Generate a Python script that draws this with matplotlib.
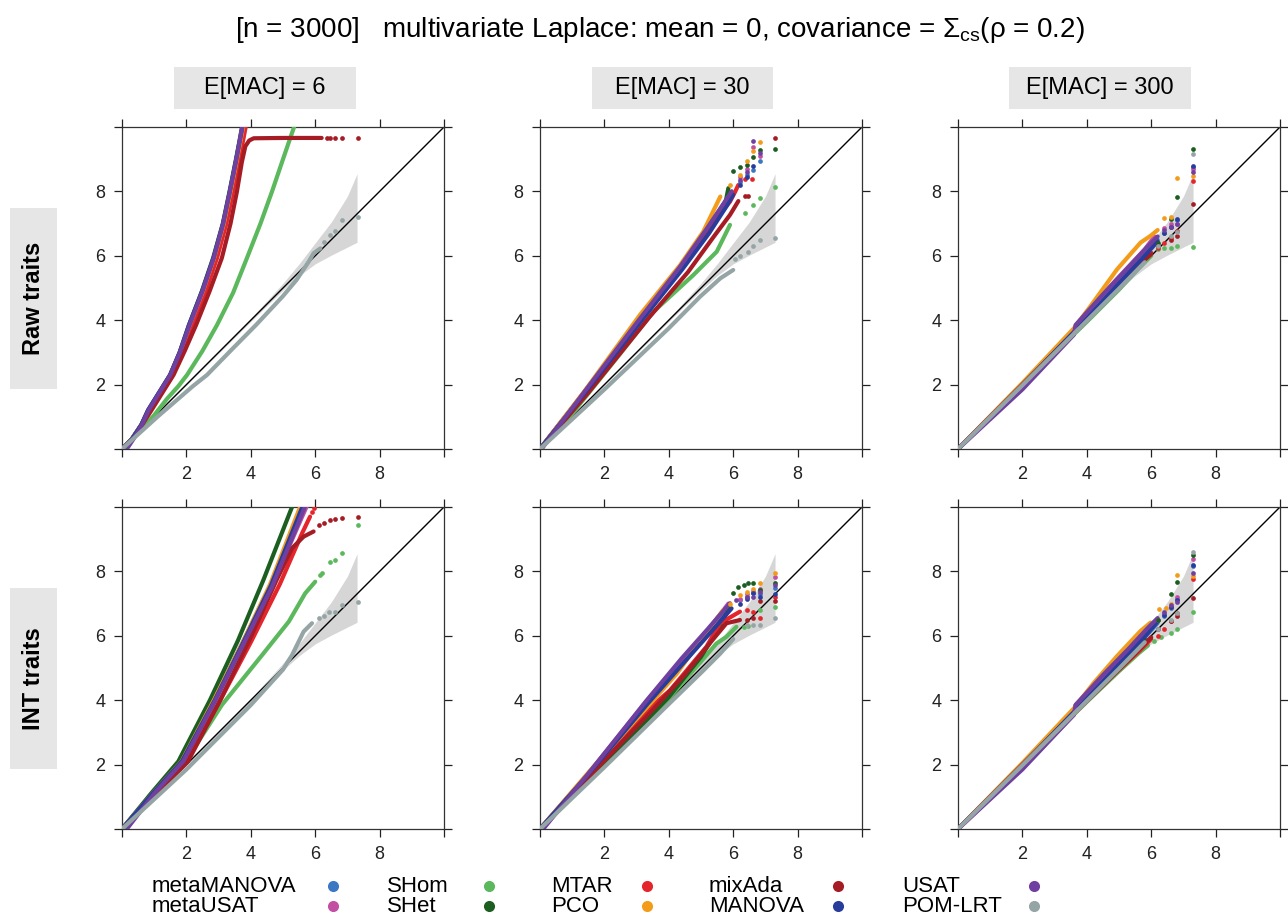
import matplotlib
matplotlib.use("Agg")
import matplotlib.pyplot as plt
from matplotlib.patches import Rectangle
from matplotlib.lines import Line2D

plt.rcParams['font.family'] = ['Liberation Sans', 'DejaVu Sans']
plt.rcParams['mathtext.fontset'] = 'custom'
plt.rcParams['mathtext.rm'] = 'Liberation Sans'
plt.rcParams['mathtext.it'] = 'Liberation Sans:italic'

methods = ['metaMANOVA', 'metaUSAT', 'SHom', 'SHet', 'MTAR',
           'PCO', 'mixAda', 'MANOVA', 'USAT', 'POM-LRT']
colors = ['#3a78c4', '#c34fa3', '#5cb85c', '#1b5e20', '#e4252c',
          '#f39c1a', '#a51c24', '#283c9c', '#7040a0', '#95a5a6']

col_titles = ['E[MAC] = 6', 'E[MAC] = 30', 'E[MAC] = 300']
row_titles = ['Raw traits', 'INT traits']

# 95% band around the null line (expected -log10 p)
band_x = [0, 1, 2, 3, 4, 4.5, 5.0, 5.5, 6.0, 6.5, 7.0, 7.3]
band_lo = [0, 0.99, 1.98, 2.97, 3.96, 4.45, 4.93, 5.38, 5.75, 6.02, 6.27, 6.42]
band_hi = [0, 1.01, 2.02, 3.04, 4.06, 4.6, 5.15, 5.75, 6.4, 7.05, 7.85, 8.55]

# dense part of each QQ curve: method -> (expected, observed)
raw6_line = {
    'metaMANOVA': ([0, 0.3, 0.6, 0.82, 1.5, 1.8, 2.1, 2.5, 2.85, 3.15, 3.36, 3.56, 3.76], [0, 0.3, 0.75, 1.21, 2.3, 3.0, 3.85, 4.9, 5.93, 7.0, 8.0, 9.0, 10.05]),
    'metaUSAT': ([0, 0.3, 0.61, 0.83, 1.52, 1.82, 2.12, 2.52, 2.87, 3.17, 3.38, 3.58, 3.78], [0, 0.3, 0.75, 1.21, 2.3, 3.0, 3.85, 4.9, 5.93, 7.0, 8.0, 9.0, 10.05]),
    'SHom': ([0, 0.6, 1.0, 1.39, 1.75, 2.02, 2.5, 2.95, 3.45, 3.88, 4.3, 4.66, 5.0, 5.36], [0, 0.6, 1.05, 1.55, 1.95, 2.3, 3.05, 3.85, 4.85, 5.93, 7.0, 8.0, 9.0, 10.05]),
    'SHet': ([0, 0.3, 0.6, 0.82, 1.5, 1.79, 2.08, 2.48, 2.83, 3.13, 3.34, 3.54, 3.74], [0, 0.3, 0.75, 1.21, 2.3, 3.0, 3.85, 4.9, 5.93, 7.0, 8.0, 9.0, 10.05]),
    'MTAR': ([0, 0.32, 0.63, 0.85, 1.55, 1.87, 2.18, 2.6, 2.95, 3.24, 3.45, 3.65, 3.85], [0, 0.3, 0.75, 1.21, 2.3, 3.0, 3.85, 4.9, 5.93, 7.0, 8.0, 9.0, 10.05]),
    'PCO': ([0, 0.3, 0.6, 0.82, 1.5, 1.8, 2.1, 2.51, 2.86, 3.16, 3.37, 3.57, 3.77], [0, 0.3, 0.75, 1.21, 2.3, 3.0, 3.85, 4.9, 5.93, 7.0, 8.0, 9.0, 10.05]),
    'mixAda': ([0, 0.35, 0.9, 1.6, 1.95, 2.3, 2.72, 3.1, 3.37, 3.57, 3.72, 3.83, 3.95, 4.09, 5.0, 6.2], [0, 0.33, 1.18, 2.3, 3.05, 3.85, 4.9, 5.93, 7.0, 8.0, 8.9, 9.4, 9.58, 9.65, 9.66, 9.66]),
    'MANOVA': ([0, 0.3, 0.6, 0.81, 1.49, 1.79, 2.08, 2.49, 2.84, 3.14, 3.35, 3.55, 3.75], [0, 0.3, 0.75, 1.21, 2.3, 3.0, 3.85, 4.9, 5.93, 7.0, 8.0, 9.0, 10.05]),
    'USAT': ([0.15, 0.35, 0.62, 0.83, 1.5, 1.8, 2.1, 2.5, 2.85, 3.14, 3.35, 3.55, 3.74], [0, 0.3, 0.75, 1.21, 2.3, 3.0, 3.85, 4.9, 5.93, 7.0, 8.0, 9.0, 10.05]),
    'POM-LRT': ([0, 1.1, 2.2, 2.64, 3.4, 4.16, 5.0, 5.42, 5.8, 5.95, 6.16], [0, 1.0, 1.95, 2.3, 3.08, 3.85, 4.75, 5.25, 5.82, 6.08, 6.23]),
}
# sparse tail points of each QQ curve
raw6_tail = {
    'mixAda': ([6.37, 6.47, 6.63, 6.83, 7.33], [9.66, 9.66, 9.66, 9.66, 9.66]),
    'POM-LRT': ([6.26, 6.47, 6.63, 6.83, 7.33], [6.42, 6.66, 6.77, 7.11, 7.22]),
}

raw30_line = {
    'metaMANOVA': ([0, 1.45, 3.1, 4.4, 5.2, 5.75, 6.0], [0, 1.83, 3.95, 5.6, 6.7, 7.5, 7.9]),
    'metaUSAT': ([0, 1.42, 3.07, 4.37, 5.12, 5.7, 5.95], [0, 1.83, 3.98, 5.65, 6.75, 7.6, 8.0]),
    'SHom': ([0, 1.0, 2.5, 3.52, 4.76, 5.49, 5.9], [0, 1.1, 2.97, 4.26, 5.4, 6.13, 6.96]),
    'SHet': ([0, 1.45, 3.1, 4.4, 5.2, 5.75, 5.85], [0, 1.85, 3.98, 5.62, 6.75, 7.6, 8.1]),
    'MTAR': ([0, 1.45, 3.31, 4.55, 5.38, 5.9, 6.06, 6.16], [0, 1.78, 4.26, 5.92, 7.06, 7.68, 7.99, 8.2]),
    'PCO': ([0, 1.4, 3.1, 4.35, 5.07, 5.6], [0, 1.82, 4.16, 5.71, 6.75, 7.84]),
    'mixAda': ([0, 1.5, 3.4, 4.6, 5.4, 5.9, 6.16], [0, 1.75, 4.1, 5.5, 6.6, 7.27, 7.7]),
    'MANOVA': ([0, 1.45, 3.12, 4.42, 5.25, 5.8, 6.0], [0, 1.82, 3.95, 5.58, 6.7, 7.55, 7.9]),
    'USAT': ([0.05, 1.42, 3.05, 4.35, 5.15, 5.7, 5.95], [0, 1.83, 3.98, 5.66, 6.8, 7.62, 8.0]),
    'POM-LRT': ([0, 2, 4, 4.97, 5.6, 6.0], [0, 1.85, 3.75, 4.73, 5.3, 5.56]),
}
raw30_tail = {
    'metaMANOVA': ([6.21, 6.42, 6.63, 6.83], [8.3, 8.5, 8.66, 8.94]),
    'metaUSAT': ([6.21, 6.42, 6.63, 6.83], [8.45, 8.7, 9.39, 9.1]),
    'SHom': ([6.37, 6.63, 6.83, 7.3], [7.32, 7.58, 7.78, 8.13]),
    'SHet': ([6.0, 6.21, 6.42, 6.63, 6.83, 7.3], [8.63, 8.77, 8.82, 9.08, 9.29, 9.32]),
    'MTAR': ([6.37, 6.57], [8.4, 8.4]),
    'PCO': ([5.9, 6.21, 6.42, 6.63, 6.83], [8.2, 8.5, 8.95, 9.25, 9.54]),
    'mixAda': ([6.37, 6.47, 7.3], [7.86, 7.86, 9.67]),
    'MANOVA': ([6.21, 6.42, 6.63], [8.2, 8.45, 8.8]),
    'USAT': ([6.21, 6.42, 6.63, 6.83], [8.35, 8.6, 9.56, 9.2]),
    'POM-LRT': ([6.06, 6.2, 6.47, 6.63, 6.83, 7.3], [5.9, 6.0, 6.13, 6.3, 6.49, 6.54]),
}

raw300_line = {
    'metaMANOVA': ([0, 2, 4, 5, 5.8, 6.2], [0, 2.0, 4.1, 5.2, 6.1, 6.5]),
    'metaUSAT': ([0, 2, 3.7, 4, 5, 5.8, 6.1], [0, 1.95, 3.8, 4.25, 5.35, 6.2, 6.6]),
    'SHom': ([0, 2, 4, 5, 5.6, 6.0], [0, 2, 3.95, 4.95, 5.6, 6.0]),
    'SHet': ([0, 2, 4, 5, 5.8], [0, 2, 4.0, 5.05, 5.9]),
    'MTAR': ([0, 2, 4, 5, 5.6, 6.0], [0, 2.0, 4.05, 5.05, 5.7, 6.1]),
    'PCO': ([0, 2, 3.6, 4.11, 4.94, 5.67, 5.98, 6.2], [0, 2.05, 3.75, 4.43, 5.58, 6.41, 6.62, 6.8]),
    'mixAda': ([0, 2, 4, 5, 5.7, 6.0], [0, 2, 4.0, 5.0, 5.8, 6.05]),
    'MANOVA': ([0, 2, 4, 5, 5.8, 6.2], [0, 1.98, 4.05, 5.15, 6.0, 6.45]),
    'USAT': ([0, 2, 3.6, 3.65, 4.5, 5.3, 5.9, 6.2], [0, 1.85, 3.55, 3.85, 4.8, 5.65, 6.3, 6.6]),
    'POM-LRT': ([0, 2, 4, 5, 5.8], [0, 1.98, 3.98, 4.98, 5.8]),
}
raw300_tail = {
    'metaMANOVA': ([6.4, 6.6, 6.81, 7.31], [6.7, 6.9, 7.1, 8.75]),
    'metaUSAT': ([6.4, 6.6, 6.81, 7.31], [6.85, 7.0, 7.0, 8.7]),
    'SHom': ([6.2, 6.4, 6.6, 6.81, 7.31], [6.2, 6.25, 6.25, 6.3, 6.28]),
    'SHet': ([6.2, 6.6, 6.81, 7.31], [6.4, 7.15, 7.84, 9.31]),
    'MTAR': ([6.2, 6.4, 6.6, 6.81, 7.31], [6.25, 6.4, 6.55, 6.77, 8.33]),
    'PCO': ([6.39, 6.6, 6.81, 7.31], [7.16, 7.2, 8.43, 8.48]),
    'mixAda': ([6.2, 6.6, 6.81, 7.31], [6.3, 6.5, 6.6, 7.6]),
    'MANOVA': ([6.4, 6.6, 6.81, 7.31], [6.7, 6.9, 7.13, 8.8]),
    'USAT': ([6.4, 6.6, 6.81, 7.31], [6.8, 6.9, 7.0, 8.59]),
    'POM-LRT': ([6.2, 6.6, 6.81, 7.31], [6.3, 6.6, 6.75, 9.16]),
}

int6_line = {
    'metaMANOVA': ([0, 0.95, 1.85, 2.85, 3.75, 4.6, 5.6], [0, 1.1, 2.1, 4.0, 5.8, 7.55, 10.05]),
    'metaUSAT': ([0, 0.97, 1.88, 2.9, 3.8, 4.65, 5.75], [0, 1.1, 2.1, 4.0, 5.8, 7.55, 10.05]),
    'SHom': ([0, 1.0, 2.17, 3.1, 4.35, 5.18, 5.69, 6.0], [0, 1.0, 2.4, 3.85, 5.4, 6.44, 7.32, 7.68]),
    'SHet': ([0, 0.9, 1.75, 2.73, 3.6, 4.39, 5.3], [0, 1.1, 2.1, 4.0, 5.85, 7.73, 10.05]),
    'MTAR': ([0, 1.0, 2.0, 3.05, 4.0, 4.9, 5.6, 5.84], [0, 1.08, 2.1, 4.0, 5.8, 7.6, 9.2, 9.7]),
    'PCO': ([0, 0.95, 1.85, 2.85, 3.75, 4.6, 5.55], [0, 1.1, 2.1, 4.0, 5.8, 7.6, 10.05]),
    'mixAda': ([0, 1.0, 2.05, 3.05, 3.95, 4.8, 5.28, 5.64, 5.95], [0, 1.05, 2.1, 4.0, 5.85, 7.73, 8.72, 9.08, 9.24]),
    'MANOVA': ([0, 0.95, 1.86, 2.88, 3.77, 4.62, 5.62], [0, 1.1, 2.1, 4.0, 5.8, 7.55, 10.05]),
    'USAT': ([0.15, 1.0, 1.9, 2.9, 3.8, 4.65, 5.7], [0, 1.1, 2.1, 4.0, 5.8, 7.5, 10.05]),
    'POM-LRT': ([0, 2, 4, 5.0, 5.28, 5.64, 5.9], [0, 1.85, 3.85, 4.95, 5.4, 6.13, 6.39]),
}
int6_tail = {
    'SHom': ([6.16, 6.21, 6.47, 6.63, 6.83, 7.33], [7.89, 7.95, 8.3, 8.35, 8.56, 9.44]),
    'MTAR': ([5.9, 5.95], [9.85, 9.96]),
    'mixAda': ([6.11, 6.26, 6.47, 6.63, 6.83, 7.33], [9.44, 9.5, 9.6, 9.63, 9.67, 9.7]),
    'POM-LRT': ([6.11, 6.26, 6.42, 6.63, 6.83, 7.33], [6.54, 6.6, 6.75, 6.75, 6.96, 7.06]),
}

int30_line = {
    'metaMANOVA': ([0, 1.5, 3.3, 4.4, 5.2, 5.9], [0, 1.7, 3.9, 5.2, 6.1, 6.9]),
    'metaUSAT': ([0, 1.5, 3.3, 4.4, 5.2, 5.85], [0, 1.72, 3.95, 5.25, 6.15, 7.0]),
    'SHom': ([0, 2, 4, 5.0, 5.48, 5.79, 6.1], [0, 2.0, 4.05, 5.2, 5.76, 5.97, 6.28]),
    'SHet': ([0, 2, 4, 5.0, 5.6, 5.9], [0, 2.02, 4.1, 5.35, 6.3, 6.95]),
    'MTAR': ([0, 1.5, 3.4, 4.04, 5.17, 5.59, 6.21], [0, 1.65, 3.75, 4.31, 5.66, 6.39, 6.75]),
    'PCO': ([0, 1.5, 3.52, 4.25, 5.07, 5.69], [0, 1.75, 4.0, 4.83, 5.97, 6.8]),
    'mixAda': ([0, 1.5, 3.5, 4.5, 5.3, 5.79, 6.21], [0, 1.6, 3.7, 4.8, 5.8, 6.39, 6.49]),
    'MANOVA': ([0, 1.5, 3.35, 4.45, 5.25, 5.95], [0, 1.7, 3.9, 5.15, 6.05, 6.85]),
    'USAT': ([0.1, 1.5, 3.3, 4.4, 5.2, 5.9], [0, 1.72, 3.98, 5.3, 6.2, 7.01]),
    'POM-LRT': ([0, 2, 4, 5.0, 5.6, 6.0], [0, 1.92, 3.88, 4.85, 5.45, 5.9]),
}
int30_tail = {
    'metaMANOVA': ([6.21, 6.42, 6.63, 6.83, 7.3], [7.1, 7.2, 7.32, 7.3, 7.5]),
    'metaUSAT': ([6.21, 6.42, 6.63, 6.83, 7.3], [7.15, 7.3, 7.4, 7.45, 7.82]),
    'SHom': ([6.32, 6.47, 6.83, 7.3], [6.28, 6.3, 6.8, 6.9]),
    'SHet': ([6.0, 6.16, 6.32, 6.47, 6.63, 6.83, 7.3], [7.32, 7.53, 7.58, 7.63, 7.63, 7.42, 7.63]),
    'MTAR': ([6.42, 6.63, 6.83, 7.3], [6.8, 6.75, 6.55, 7.2]),
    'PCO': ([5.9, 6.21, 6.42, 6.63, 6.83, 7.3], [7.0, 7.27, 7.37, 7.45, 7.63, 7.94]),
    'mixAda': ([6.42, 6.63, 6.83, 7.3], [6.49, 6.55, 7.07, 7.07]),
    'MANOVA': ([6.21, 6.42, 6.63, 6.83, 7.3], [7.0, 7.15, 7.32, 7.2, 7.3]),
    'USAT': ([6.1, 6.42, 6.63, 6.83, 7.3], [7.11, 7.22, 7.2, 7.35, 7.58]),
    'POM-LRT': ([6.42, 6.63, 6.83, 7.3], [6.34, 6.34, 6.34, 6.54]),
}

int300_line = {
    'metaMANOVA': ([0, 2, 4, 5, 5.8, 6.2], [0, 2.0, 4.05, 5.1, 5.95, 6.4]),
    'metaUSAT': ([0, 2, 3.6, 3.65, 4.5, 5.3, 5.9], [0, 1.9, 3.55, 3.85, 4.75, 5.55, 6.2]),
    'SHom': ([0, 2, 4, 5, 5.6, 5.9], [0, 2, 3.95, 4.9, 5.45, 5.7]),
    'SHet': ([0, 2, 4, 5, 5.8], [0, 2, 4.02, 5.05, 5.9]),
    'MTAR': ([0, 2, 4, 5, 5.6, 6.0], [0, 1.98, 3.98, 4.95, 5.5, 5.9]),
    'PCO': ([0, 2, 3.6, 4.21, 4.94, 5.67, 5.98], [0, 2.05, 3.75, 4.53, 5.37, 6.15, 6.41]),
    'mixAda': ([0, 2, 4, 5, 5.7, 6.0], [0, 2, 3.98, 4.95, 5.65, 5.95]),
    'MANOVA': ([0, 2, 4, 5, 5.8, 6.2], [0, 1.98, 4.05, 5.12, 5.98, 6.45]),
    'USAT': ([0, 2, 3.6, 3.65, 4.5, 5.3, 5.9, 6.2], [0, 1.85, 3.55, 3.85, 4.78, 5.6, 6.25, 6.55]),
    'POM-LRT': ([0, 2, 4, 5, 5.8], [0, 1.98, 3.98, 4.98, 5.8]),
}
int300_tail = {
    'metaMANOVA': ([6.4, 6.6, 6.81, 7.31], [6.6, 6.85, 7.13, 8.17]),
    'metaUSAT': ([6.2, 6.4, 6.6, 6.81, 7.31], [6.5, 6.7, 6.9, 7.2, 8.4]),
    'SHom': ([6.1, 6.3, 6.6, 6.81, 7.31], [5.85, 5.95, 6.1, 6.22, 6.74]),
    'SHet': ([6.2, 6.6, 6.81, 7.31], [6.5, 7.3, 7.67, 8.5]),
    'MTAR': ([6.2, 6.4, 6.6, 6.81, 7.31], [6.0, 6.2, 6.45, 6.72, 7.76]),
    'PCO': ([6.25, 6.45, 6.6, 6.81, 7.31], [6.82, 6.85, 7.0, 7.88, 7.85]),
    'mixAda': ([6.2, 6.6, 6.81, 7.31], [6.2, 6.45, 6.6, 7.16]),
    'MANOVA': ([6.4, 6.6, 6.81, 7.31], [6.65, 6.9, 7.1, 8.2]),
    'USAT': ([6.4, 6.6, 6.81, 7.31], [6.75, 6.95, 7.05, 7.96]),
    'POM-LRT': ([6.2, 6.6, 6.81, 7.31], [6.2, 6.5, 6.7, 8.6]),
}

panels = [[(raw6_line, raw6_tail), (raw30_line, raw30_tail), (raw300_line, raw300_tail)],
          [(int6_line, int6_tail), (int30_line, int30_tail), (int300_line, int300_tail)]]

W, H = 1288, 918
fig = plt.figure(figsize=(W / 100, H / 100), dpi=100)

col_x = [122, 540, 958]
row_y = [127, 507]
size = 322


def fx(px):
    return px / W


def fy(py):
    return 1 - py / H


for r in range(2):
    for c in range(3):
        ax = fig.add_axes([fx(col_x[c]), fy(row_y[r] + size), size / W, size / H])
        ax.set_xlim(0, 10)
        ax.set_ylim(0, 10)
        ax.fill_between(band_x, band_lo, band_hi, color='#d6d6d6', lw=0, zorder=1)
        ax.plot([0, 10], [0, 10], color='black', lw=1.0, zorder=2)
        lines, tails = panels[r][c]
        for m, col in zip(methods, colors):
            xs, ys = lines[m]
            ax.plot(xs, ys, color=col, lw=3.0, solid_capstyle='round',
                    solid_joinstyle='round', zorder=3)
            if m in tails:
                tx, ty = tails[m]
                ax.plot(tx, ty, 'o', color=col, ms=3.4, mew=0, zorder=4)
        ticks = [0, 2, 4, 6, 8, 10]
        ax.set_xticks(ticks)
        ax.set_yticks(ticks)
        ax.set_xticklabels(['', '2', '4', '6', '8', ''])
        ax.set_yticklabels(['', '2', '4', '6', '8', ''])
        ax.tick_params(direction='out', length=6, width=0.9, top=True, right=True,
                       labelsize=13, colors='#222222', pad=6)
        for s in ax.spines.values():
            s.set_linewidth(0.9)
            s.set_color('#333333')

# column strips
strip_x = [(174, 356), (592, 773), (1009, 1191)]
for (x0, x1), t in zip(strip_x, col_titles):
    fig.add_artist(Rectangle((fx(x0), fy(109)), (x1 - x0) / W, 42 / H,
                             transform=fig.transFigure, color='#e6e6e6', lw=0))
    fig.text(fx((x0 + x1) / 2), fy(88), t, ha='center', va='center', fontsize=17)

# row strips
row_box = [(208, 389), (588, 769)]
for (y0, y1), t in zip(row_box, row_titles):
    fig.add_artist(Rectangle((fx(10), fy(y1)), 47 / W, (y1 - y0) / H,
                             transform=fig.transFigure, color='#e6e6e6', lw=0))
    fig.text(fx(33), fy((y0 + y1) / 2), t, ha='center', va='center', rotation=90,
             fontsize=17, fontweight='bold')

fig.text(fx(660), fy(30),
         r'[n = 3000]   multivariate Laplace: mean = 0, covariance = $\Sigma_{\mathrm{cs}}$(ρ = 0.2)',
         ha='center', va='center', fontsize=20)

# legend
leg_text_x = [152, 387, 551, 709, 902]
leg_dot_x = [333, 489, 647, 838, 1034]
leg_y = [886, 906]
for i, (m, col) in enumerate(zip(methods, colors)):
    c, r = divmod(i, 2)
    fig.text(fx(leg_text_x[c]), fy(leg_y[r]), m, ha='left', va='center', fontsize=16)
    fig.add_artist(Line2D([fx(leg_dot_x[c])], [fy(leg_y[r])], marker='o', ms=8, mew=0,
                          color=col, transform=fig.transFigure))

fig.savefig('out.png', dpi=100)
